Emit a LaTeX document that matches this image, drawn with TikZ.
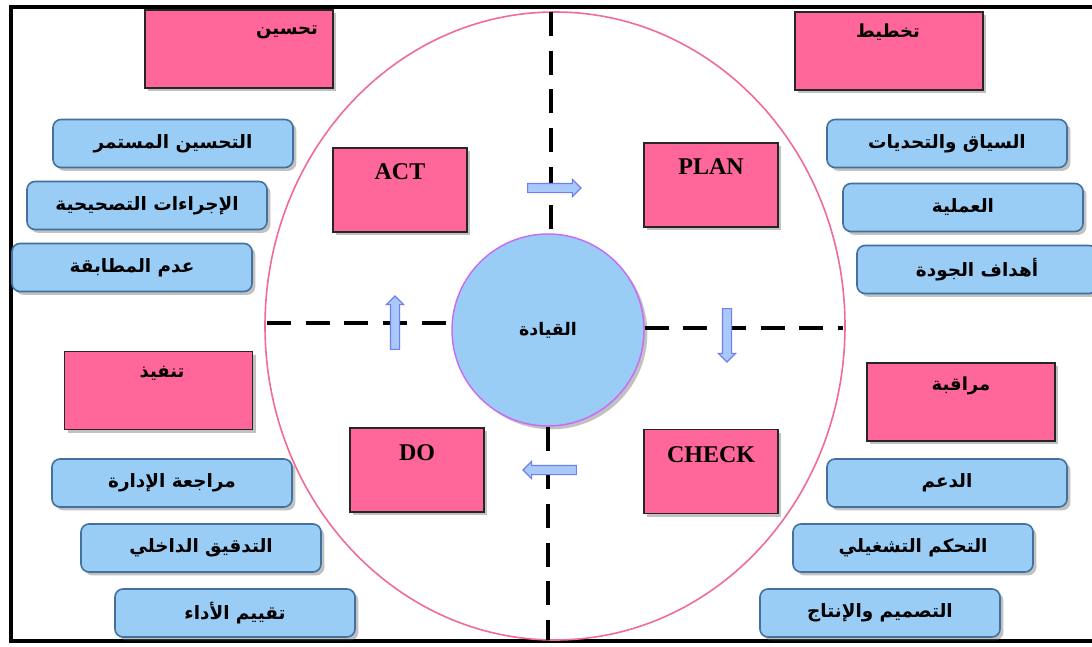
\documentclass[tikz,border=0pt]{standalone}
\usepackage{fontspec}
\setmainfont{Liberation Serif}
\newfontfamily\arabicfont[Script=Arabic]{DejaVu Sans}
\TeXXeTstate=1
\usetikzlibrary{shadows,shapes.arrows}
\definecolor{pinkfill}{HTML}{FF6699}
\definecolor{bluefill}{HTML}{9ACDF6}
\definecolor{blueborder}{HTML}{41719C}
\definecolor{ringcol}{HTML}{F06C95}
\definecolor{leadborder}{HTML}{C86CF5}
\definecolor{arrowfill}{HTML}{A9C9FA}
\definecolor{arrowborder}{HTML}{6F7EF2}
\newcommand{\artxt}[1]{\beginR #1\endR}
\begin{document}
\begin{tikzpicture}[x=0.75pt,y=-0.75pt,
  shad/.style={drop shadow={shadow xshift=2.5pt,shadow yshift=-2.5pt,opacity=0.4,fill=black!60}},
  bluebox/.style={shad,rounded corners=6pt,fill=bluefill,draw=blueborder,line width=1.2pt,
     minimum width=180pt,minimum height=36pt,inner sep=0pt,
     font=\arabicfont\bfseries\fontsize{13.8}{15}\selectfont},
  pinkbig/.style={shad,fill=pinkfill,draw=black!85,line width=0.8pt,minimum width=141pt,minimum height=58.5pt,inner sep=0pt},
  pinksmall/.style={shad,fill=pinkfill,draw=black!85,line width=0.8pt,minimum width=100.5pt,minimum height=63pt,inner sep=0pt},
  artitle/.style={font=\arabicfont\bfseries\fontsize{13.5}{15}\selectfont,inner sep=0pt},
  entitle/.style={font=\bfseries\fontsize{18}{20}\selectfont,inner sep=0pt},
  dashline/.style={line width=3.6pt,dash pattern=on 18pt off 11pt},
  flowarrow/.style={single arrow,draw=arrowborder,fill=arrowfill,line width=0.9pt,
     minimum height=40pt,inner sep=3pt,single arrow head extend=3pt,single arrow head indent=0pt}
]
\useasboundingbox (0,0) rectangle (1092,646);
\fill[white] (0,0) rectangle (1092,646);
% frame
\draw[line width=2.5pt] (11,7) rectangle (1094,641);
% ring
\draw[ringcol,line width=1.2pt] (555,326) ellipse [x radius=217.5pt,y radius=235.5pt];
% centre
\node[shad,circle,fill=bluefill,draw=leadborder,line width=1.1pt,minimum size=144pt,inner sep=0pt,
  font=\arabicfont\bfseries\fontsize{13}{14}\selectfont] (lead) at (548,330) {\artxt{القيادة}};
% dashed axes
\coordinate (etop) at (551,12);
\coordinate (ebot) at (548,640);
\coordinate (eleft) at (267,323);
\coordinate (eright) at (843,328);
\draw[dashline] (etop) -- (etop |- lead.north);
\draw[dashline] (lead.south) -- (ebot);
\draw[dashline] (eleft) -- (lead.west |- eleft);
\draw[dashline] (lead.east |- eright) -- (eright);
% arrows
\node[flowarrow,shape border rotate=0] (arT) at (552,188) {};
\node[flowarrow,shape border rotate=270] (arR) at (727,333) {};
\node[flowarrow,shape border rotate=180] (arB) at (552,470) {};
\node[flowarrow,shape border rotate=90] (arL) at (395,325) {};
% pink section boxes
\node[pinkbig] (tahsin) at (239,49) {};
\node[artitle] at (287,32) {\artxt{تحسين}};
\node[pinkbig] (takhtit) at (889,51) {};
\node[artitle] at (888,32) {\artxt{تخطيط}};
\node[pinkbig] (tanfidh) at (158.5,390.5) {};
\node[artitle] at (162,373) {\artxt{تنفيذ}};
\node[pinkbig] (muraqaba) at (961,402) {};
\node[artitle] at (961,386) {\artxt{مراقبة}};
% PDCA boxes
\node[pinksmall] (act) at (400,190) {};
\node[entitle] at (400,172) {ACT};
\node[pinksmall] (plan) at (711,185) {};
\node[entitle] at (711,167) {PLAN};
\node[pinksmall] (do) at (417,470) {};
\node[entitle] at (417,453) {DO};
\node[pinksmall] (check) at (711,471.5) {};
\node[entitle] at (711,455) {CHECK};
% left blue items
\node[bluebox] (l1) at (173,143.5) {\artxt{التحسين المستمر}};
\node[bluebox] (l2) at (147,205.5) {\artxt{الإجراءات التصحيحية}};
\node[bluebox] (l3) at (132,267.5) {\artxt{عدم المطابقة}};
\node[bluebox] (l4) at (172,483) {\artxt{مراجعة الإدارة}};
\node[bluebox] (l5) at (201,548) {\artxt{التدقيق الداخلي}};
\node[bluebox] (l6) at (235,613) {\artxt{تقييم الأداء}};
% right blue items
\node[bluebox] (r1) at (947,143.5) {\artxt{السياق والتحديات}};
\node[bluebox] (r2) at (963,207.5) {\artxt{العملية}};
\node[bluebox] (r3) at (977,269.5) {\artxt{أهداف الجودة}};
\node[bluebox] (r4) at (947,483) {\artxt{الدعم}};
\node[bluebox] (r5) at (913,548) {\artxt{التحكم التشغيلي}};
\node[bluebox] (r6) at (880,613) {\artxt{التصميم والإنتاج}};
\end{tikzpicture}
\end{document}
